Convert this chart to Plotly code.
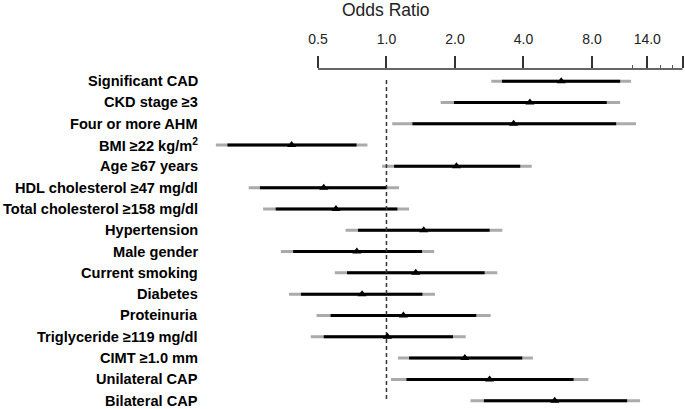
import math
import plotly.graph_objects as go

labels = ["Significant CAD", "CKD stage ≥3", "Four or more AHM", "BMI ≥22 kg/m<sup>2</sup>",
          "Age ≥67 years", "HDL cholesterol ≥47 mg/dl", "Total cholesterol ≥158 mg/dl",
          "Hypertension", "Male gender", "Current smoking", "Diabetes", "Proteinuria",
          "Triglyceride ≥119 mg/dl", "CIMT ≥1.0 mm", "Unilateral CAP", "Bilateral CAP"]
odds_ratio = [5.86, 4.27, 3.62, 0.383, 2.03, 0.53, 0.60, 1.458, 0.741, 1.345, 0.781, 1.187, 1.01, 2.21, 2.84, 5.49]
inner_lo = [3.22, 1.98, 1.30, 0.20, 1.08, 0.278, 0.326, 0.75, 0.389, 0.671, 0.421, 0.568, 0.53, 1.257, 1.224, 2.68]
inner_hi = [10.64, 9.29, 10.22, 0.739, 3.87, 1.0, 1.117, 2.84, 1.433, 2.70, 1.439, 2.48, 1.96, 3.95, 6.64, 11.42]
outer_lo = [2.89, 1.73, 1.06, 0.178, 0.957, 0.248, 0.287, 0.661, 0.344, 0.593, 0.373, 0.493, 0.465, 1.124, 1.047, 2.34]
outer_hi = [11.89, 10.64, 12.5, 0.825, 4.35, 1.136, 1.257, 3.23, 1.62, 3.07, 1.634, 2.87, 2.23, 4.40, 7.72, 13.02]
tick_vals = [0.5, 1, 2, 4, 8, 14, 20]
tick_text = ["0.5", "1.0", "2.0", "4.0", "8.0", "14.0", " "]
minor_vals = [12, 16, 18]
x_min, x_max = 0.15, 20.1
ref_value = 1.0

rows = list(range(1, len(labels) + 1))
FONT = "Liberation Sans, Arial, sans-serif"

def segs(lo, hi):
    xs, ys = [], []
    for a, b, r in zip(lo, hi, rows):
        xs += [a, b, None]
        ys += [r, r, None]
    return xs, ys

fig = go.Figure()
gx, gy = segs(outer_lo, outer_hi)
fig.add_trace(go.Scatter(x=gx, y=gy, mode="lines", line=dict(color="#aaaaaa", width=3),
                         hoverinfo="skip", showlegend=False))
bx, by = segs(inner_lo, inner_hi)
fig.add_trace(go.Scatter(x=bx, y=by, mode="lines", line=dict(color="#000000", width=3),
                         hoverinfo="skip", showlegend=False))
fig.add_trace(go.Scatter(x=[ref_value, ref_value], y=[rows[0] - 0.05, rows[-1]], mode="lines",
                         line=dict(color="#333333", width=1.5, dash="4px,3px"),
                         hoverinfo="skip", showlegend=False))
fig.add_trace(go.Scatter(x=odds_ratio, y=rows, mode="markers",
                         marker=dict(symbol="triangle-up", size=8, color="#000000"),
                         showlegend=False))

# axis baseline spanning the labelled range
fig.add_shape(type="line", xref="x", yref="paper",
              x0=tick_vals[0], x1=tick_vals[-1], y0=1, y1=1,
              line=dict(color="#333333", width=1.5))

for lab, r in zip(labels, rows):
    fig.add_annotation(x=0, xref="paper", y=r, yref="y", text="<b>" + lab + "</b>",
                       xanchor="right", yanchor="middle", xshift=1, showarrow=False,
                       font=dict(family=FONT, size=14.6, color="#000000"))

fig.add_annotation(x=math.log10(ref_value), xref="x", y=1, yref="paper", text="Odds Ratio",
                   xanchor="center", yanchor="middle", yshift=59, showarrow=False,
                   font=dict(family=FONT, size=17.5, color="#222222"))

fig.update_xaxes(type="log", range=[math.log10(x_min), math.log10(x_max)], side="top",
                 automargin=False,
                 showline=False, showgrid=False, zeroline=False,
                 tickmode="array", tickvals=tick_vals, ticktext=tick_text,
                 ticks="outside", ticklen=12, tickwidth=1.5, tickcolor="#333333",
                 ticklabelstandoff=6,
                 tickfont=dict(family=FONT, size=14, color="#222222"),
                 minor=dict(tickmode="array", tickvals=minor_vals, ticks="outside",
                            ticklen=3, tickwidth=1, tickcolor="#555555", showgrid=False))
fig.update_yaxes(range=[16.39, 0.43], visible=False, automargin=False)

fig.update_layout(width=685, height=409, margin=dict(l=199, r=2, t=69, b=0),
                  plot_bgcolor="white", paper_bgcolor="white", showlegend=False,
                  font=dict(family=FONT))
fig.write_html("out.html", config={"displayModeBar": False},
               post_script="document.body.style.margin='0px';")
